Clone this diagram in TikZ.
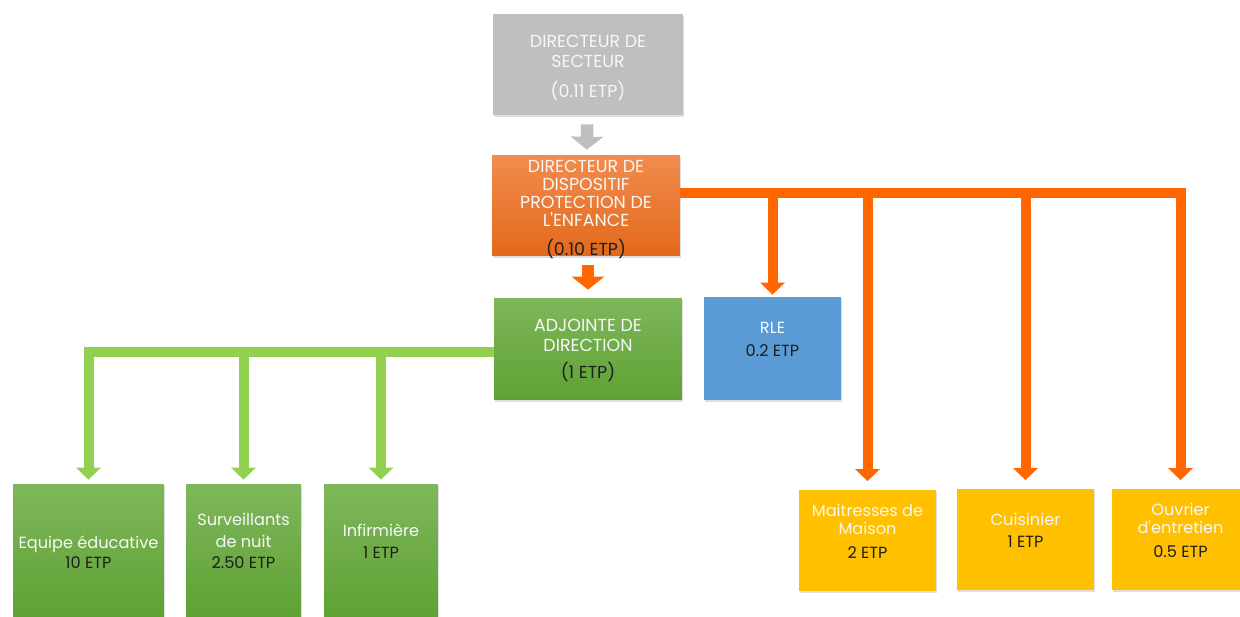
\documentclass[tikz,border=0pt]{standalone}
\usepackage{fontspec}
\setmainfont{Poppins}
\usetikzlibrary{arrows.meta,shadows}

\definecolor{grisbox}{HTML}{BFBFBF}
\definecolor{orangetop}{HTML}{F28C4E}
\definecolor{orangebot}{HTML}{E2691B}
\definecolor{orangeline}{HTML}{FF6600}
\definecolor{verttop}{HTML}{7FB75C}
\definecolor{vertbot}{HTML}{5EA133}
\definecolor{vertline}{HTML}{92D050}
\definecolor{bleubox}{HTML}{5B9BD5}
\definecolor{jaunebox}{HTML}{FFC000}
\definecolor{etp}{HTML}{1E1E1E}
\definecolor{blanc}{HTML}{F7F7F7}

\begin{document}
\begin{tikzpicture}[x=0.02cm,y=-0.02cm,
    box/.style={minimum width=2.74cm, minimum height=2.02cm, align=center, inner sep=1pt,
        text=blanc, font=\fontsize{9.2}{10.3}\selectfont,
        drop shadow={opacity=0.25, shadow xshift=0.5pt, shadow yshift=-1.2pt}},
    haut/.style={font=\fontsize{9.9}{10.3}\selectfont},
    grisbox/.style={box, haut, fill=grisbox},
    orangebox/.style={box, haut, top color=orangetop, bottom color=orangebot},
    vertbox/.style={box, top color=verttop, bottom color=vertbot},
    bleubox/.style={box, fill=bleubox},
    jaunebox/.style={box, fill=jaunebox},
    bus/.style={line width=0.2cm},
    obar/.style={bus, draw=orangeline, -{Triangle[width=0.48cm,length=0.24cm]}, shorten >=0.17cm},
    gbar/.style={bus, draw=vertline, -{Triangle[width=0.48cm,length=0.24cm]}, shorten >=0.08cm},
    fleche/.style={line width=0.25cm, -{Triangle[width=0.64cm,length=0.26cm]}}]
    \useasboundingbox (0,0) rectangle (1240,616);

    \node[grisbox, minimum width=3.8cm] (secteur) at (588,64.5)
        {\rule{0pt}{11pt}DIRECTEUR DE\\[1pt]SECTEUR\\[7pt](0.11 ETP)};
    \node[orangebox, minimum width=3.76cm] (dispositif) at (586,205.5)
        {DIRECTEUR DE\\DISPOSITIF\\PROTECTION DE\\L\textquotesingle ENFANCE\\[6pt]{\color{etp}(0.10 ETP)}\\[-12.5pt]\mbox{}};
    \node[vertbox, haut, minimum width=3.76cm, minimum height=2.04cm] (adjointe) at (588,349)
        {\rule{0pt}{9pt}ADJOINTE DE\\[1pt]DIRECTION\\[5pt]{\color{etp}(1 ETP)}};
    \node[bleubox, minimum height=2.06cm] (rle) at (772.5,348.5)
        {RLE\\[3pt]{\color{etp}0.2 ETP}\\\mbox{}};

    \node[vertbox, minimum width=3.02cm, minimum height=2.72cm] (equipe) at (88.5,552)
        {Equipe éducative\\[1pt]{\color{etp}10 ETP}};
    \node[vertbox, minimum width=2.3cm, minimum height=2.72cm] (surveillants) at (243.5,552)
        {Surveillants\\[2pt]de nuit\\[2pt]{\color{etp}2.50 ETP}\\[2pt]\mbox{}};
    \node[vertbox, minimum width=2.28cm, minimum height=2.72cm] (infirmiere) at (381,552)
        {Infirmière\\[2pt]{\color{etp}1 ETP}\\[2pt]\mbox{}};

    \node[jaunebox] (maitresses) at (867.5,540.5)
        {Maitresses de\\Maison\\[3pt]{\color{etp}2 ETP}\\\mbox{}};
    \node[jaunebox] (cuisinier) at (1025.5,539.5)
        {Cuisinier\\[2pt]{\color{etp}1 ETP}\\\mbox{}};
    \node[jaunebox] (ouvrier) at (1180.5,539.5)
        {Ouvrier\\d\textquotesingle entretien\\[3pt]{\color{etp}0.5 ETP}\\\mbox{}};

    \coordinate (obus) at (700,193);
    \coordinate (gbus) at (450,352);

    % fleches du haut
    \draw[fleche, draw=grisbox, fill=grisbox, shorten <=0.18cm, shorten >=0.1cm] (secteur) -- (dispositif);
    \draw[fleche, draw=orangeline, fill=orangeline, shorten <=0.18cm, shorten >=0.16cm] (dispositif.south -| adjointe) -- (adjointe);

    % bus orange
    \draw[obar] (dispositif.east |- obus) -| (ouvrier.north);
    \draw[obar, shorten >=0.04cm] (obus -| rle.north) -- (rle.north);
    \draw[obar] (obus -| maitresses.north) -- (maitresses.north);
    \draw[obar] (obus -| cuisinier.north) -- (cuisinier.north);

    % bus vert
    \draw[gbar] (adjointe.west |- gbus) -| (equipe.north);
    \draw[gbar] (gbus -| surveillants.north) -- (surveillants.north);
    \draw[gbar] (gbus -| infirmiere.north) -- (infirmiere.north);
\end{tikzpicture}
\end{document}
